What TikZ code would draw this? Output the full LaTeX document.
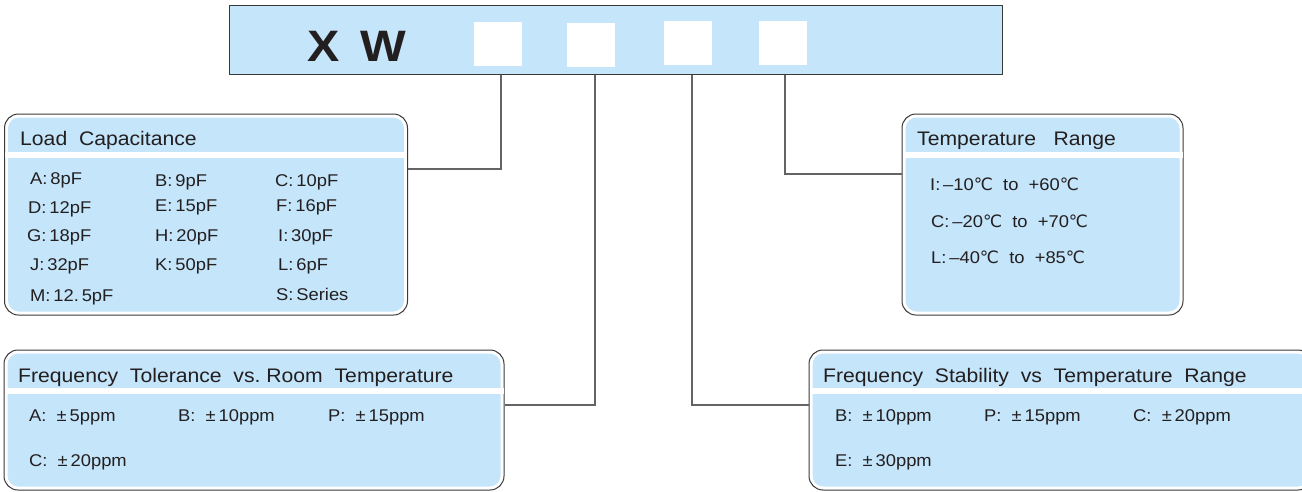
\documentclass[tikz,border=0pt]{standalone}
\usepackage{fontspec}
\setmainfont{Liberation Sans}[FakeStretch=1.08]
\newfontfamily\dv{DejaVu Sans}
\newfontfamily\xwfont{Liberation Sans Bold}[FakeStretch=1.1]
\usetikzlibrary{calc}
\definecolor{lblue}{RGB}{196,229,250}
\definecolor{edge}{RGB}{58,58,58}
\definecolor{conn}{RGB}{100,100,100}
\definecolor{ink}{RGB}{35,31,32}
\newcommand{\degC}{{\dv ℃}}
\tikzset{
  outerbox/.style={draw=edge, line width=1pt, fill=white, rounded corners=14pt, inner sep=0pt},
  topbox/.style={draw=edge, line width=1pt, fill=lblue, inner sep=0pt},
  slot/.style={fill=white, inner sep=0pt, minimum width=48pt, minimum height=44pt},
  title/.style={anchor=base west, inner sep=0pt, text=ink, font=\fontsize{19.6}{22}\selectfont},
  item/.style={anchor=base west, inner sep=0pt, text=ink, font=\fontsize{17}{20}\selectfont},
  connector/.style={draw=conn, line width=1.2pt},
}
\newcommand{\innerfill}[1]{%
  \fill[lblue, rounded corners=11pt] ($(#1.north west)+(4,4)$) rectangle ($(#1.south east)+(-4,-4)$);
  \fill[white] ($(#1.north west)+(1,38)$) rectangle ($(#1.north east)+(-1,44)$);
}
\begin{document}
\begin{tikzpicture}[x=1pt,y=-1pt]
\clip (0,0) rectangle (1302,491);
\fill[white] (0,0) rectangle (1302,491);

% top code box
\node[topbox, minimum width=773pt, minimum height=69pt] (top) at (615.5,39.5) {};
\node[anchor=base west, inner sep=0pt, text=ink, font=\xwfont\fontsize{44}{48}\selectfont] (xw) at (307.5,61) {X\hspace{21pt}W};
\node[slot] (s1) at (498,44) {};
\node[slot] (s2) at (591,45) {};
\node[slot] (s3) at (688,43) {};
\node[slot] (s4) at (783,43) {};

% boxes
\node[outerbox, minimum width=403pt, minimum height=201pt] (lc) at (206,214.5) {};
\node[outerbox, minimum width=281pt, minimum height=201pt] (tr) at (1042.5,214.5) {};
\node[outerbox, minimum width=500pt, minimum height=140pt] (ft) at (254,420) {};
\node[outerbox, minimum width=503pt, minimum height=140pt] (fs) at (1060.5,420) {};
\innerfill{lc}
\innerfill{tr}
\innerfill{ft}
\innerfill{fs}

% connectors
\draw[connector] (top.south -| 501,0) |- (lc.east |- 0,169);
\draw[connector] (top.south -| 595,0) |- (ft.east |- 0,405);
\draw[connector] (top.south -| 692,0) |- (fs.west |- 0,405);
\draw[connector] (top.south -| 785,0) |- (tr.west |- 0,174);

% Load capacitance
\node[title] (lct) at (20,145) {Load~~Capacitance};
\node[item] (lca) at (30,184) {A:\,8pF};
\node[item] (lcb) at (155,186) {B:\,9pF};
\node[item] (lcc) at (275,186) {C:\,10pF};
\node[item] (lcd) at (28,213) {D:\,12pF};
\node[item] (lce) at (155,211) {E:\,15pF};
\node[item] (lcf) at (276,211) {F:\,16pF};
\node[item] (lcg) at (27,241) {G:\,18pF};
\node[item] (lch) at (155,241) {H:\,20pF};
\node[item] (lci) at (278,241) {I:\,30pF};
\node[item] (lcj) at (30,270) {J:\,32pF};
\node[item] (lck) at (155,270) {K:\,50pF};
\node[item] (lcl) at (278,270) {L:\,6pF};
\node[item] (lcm) at (30,301) {M:\,12.\,5pF};
\node[item] (lcs) at (276,300) {S:\,Series};

% Temperature range
\node[title] (trt) at (917,145) {Temperature~~~Range};
\node[item] (tri) at (930,190) {I:\,–10\degC~~to~~+60\degC};
\node[item] (trc) at (931,227) {C:\,–20\degC~~to~~+70\degC};
\node[item] (trl) at (931,263) {L:\,–40\degC~~to~~+85\degC};

% Frequency tolerance
\node[title] (ftt) at (18,382) {Frequency~~Tolerance~~vs.~Room~~Temperature};
\node[item] (fta) at (29,421) {A:~~±\,5ppm};
\node[item] (ftb) at (178,421) {B:~~±\,10ppm};
\node[item] (ftp) at (328,421) {P:~~±\,15ppm};
\node[item] (ftc) at (29,466) {C:~~±\,20ppm};

% Frequency stability
\node[title] (fst) at (823,382) {Frequency~~Stability~~vs~~Temperature~~Range};
\node[item] (fsb) at (835,421) {B:~~±\,10ppm};
\node[item] (fsp) at (984,421) {P:~~±\,15ppm};
\node[item] (fsc) at (1133,421) {C:~~±\,20ppm};
\node[item] (fse) at (835,466) {E:~~±\,30ppm};
\end{tikzpicture}
\end{document}
